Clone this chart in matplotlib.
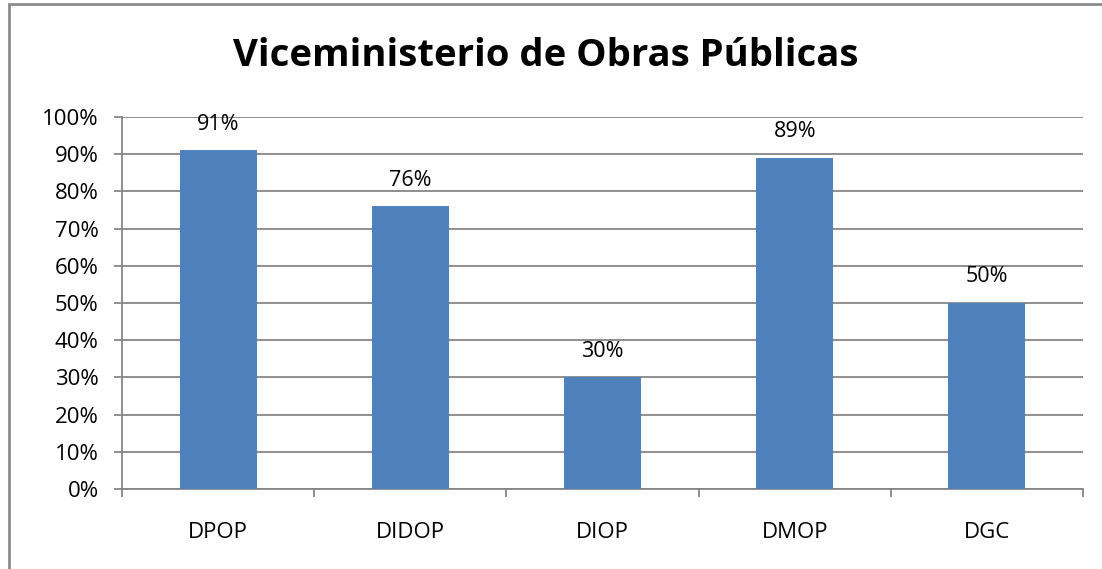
import matplotlib.pyplot as plt
from matplotlib.patches import Rectangle
from matplotlib.ticker import PercentFormatter

categories = ['DPOP', 'DIDOP', 'DIOP', 'DMOP', 'DGC']
values = [91, 76, 30, 89, 50]
labels = ['91%', '76%', '30%', '89%', '50%']
yticks = [0, 10, 20, 30, 40, 50, 60, 70, 80, 90, 100]

plt.rcParams['font.family'] = ['Open Sans', 'DejaVu Sans']

W, H = 1102, 569
fig = plt.figure(figsize=(W / 100, H / 100), dpi=100)
ax = fig.add_axes([122 / W, 1 - 489 / H, (1083 - 122) / W, (489 - 117) / H])

grid = '#868686'
fs = 16
x = range(len(categories))
bars = ax.bar(x, values, width=0.4, color='#4F81BD', zorder=3)
for b, lab in zip(bars, labels):
    ax.text(b.get_x() + b.get_width() / 2, b.get_height() + 7, lab,
            ha='center', va='center', fontsize=15.5)

ax.set_xlim(-0.5, len(categories) - 0.5)
ax.set_ylim(0, 100)
ax.set_yticks(yticks)
ax.yaxis.set_major_formatter(PercentFormatter(decimals=0))
ax.grid(axis='y', color=grid, linewidth=1.3, zorder=0)

ax.set_xticks(list(x))
ax.set_xticklabels(categories, fontsize=fs)
ax.set_xticks([i - 0.5 for i in range(len(categories) + 1)], minor=True)
ax.tick_params(axis='x', which='major', length=0, pad=24)
ax.tick_params(axis='x', which='minor', length=5.8, color=grid, width=1.3)
ax.tick_params(axis='y', length=5.8, color=grid, width=1.3, labelsize=fs, pad=11)

for s in ['top', 'right']:
    ax.spines[s].set_visible(False)
for s in ['left', 'bottom']:
    ax.spines[s].set_color(grid)
    ax.spines[s].set_linewidth(1.3)

fig.text(546 / W, 1 - 56 / H, 'Viceministerio de Obras Públicas',
         ha='center', va='center', fontsize=27.5, fontweight='bold')

# chart frame, only left and top edges fall inside the picture
fig.patches.append(Rectangle((8.5 / W, -0.1), 1.2, 1 - 4.5 / H + 0.1,
                             transform=fig.transFigure, fill=False,
                             edgecolor='#8C8C8C', linewidth=2))

fig.savefig('out.png', dpi=100)
